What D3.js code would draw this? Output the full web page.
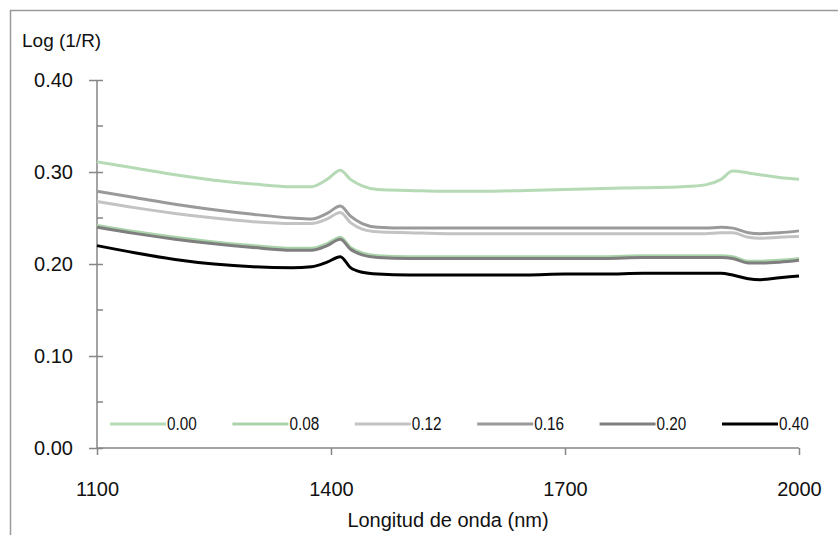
<!DOCTYPE html>
<html>
<head>
<meta charset="utf-8">
<script src="https://cdn.jsdelivr.net/npm/d3@7"></script>
<style>
  body { margin: 0; background: #fff; }
  svg { display: block; font-family: "Liberation Sans", Arial, sans-serif; }
</style>
</head>
<body>
<div id="main"></div>
<script>
var width = 838, height = 535;

// wavelengths (nm) shared by every series
var wavelengths = [1100, 1150, 1200, 1250, 1300, 1350, 1375, 1395, 1412, 1425, 1440, 1460, 1500, 1550,
  1600, 1650, 1700, 1750, 1800, 1850, 1880, 1900, 1915, 1935, 1950, 1975, 2000];

var seriesNames = ["0.00", "0.08", "0.12", "0.16", "0.20", "0.40"];
var seriesColors = ["#b5dab5", "#a9d3a9", "#c3c3c3", "#9a9a9a", "#7f7f7f", "#000000"];

var s000 = [0.311, 0.304, 0.297, 0.291, 0.287, 0.284, 0.284, 0.292, 0.302, 0.292, 0.285, 0.281, 0.280, 0.279,
  0.279, 0.280, 0.281, 0.282, 0.283, 0.284, 0.286, 0.292, 0.301, 0.299, 0.297, 0.294, 0.292];
var s008 = [0.242, 0.235, 0.229, 0.224, 0.220, 0.217, 0.217, 0.222, 0.229, 0.218, 0.212, 0.209, 0.208, 0.208,
  0.208, 0.208, 0.208, 0.208, 0.209, 0.209, 0.209, 0.209, 0.208, 0.203, 0.203, 0.204, 0.206];
var s012 = [0.268, 0.261, 0.255, 0.250, 0.246, 0.244, 0.244, 0.249, 0.256, 0.245, 0.238, 0.235, 0.234, 0.233,
  0.233, 0.233, 0.233, 0.233, 0.233, 0.233, 0.233, 0.234, 0.234, 0.229, 0.228, 0.229, 0.230];
var s016 = [0.279, 0.272, 0.265, 0.259, 0.254, 0.250, 0.249, 0.255, 0.263, 0.252, 0.244, 0.240, 0.239, 0.239,
  0.239, 0.239, 0.239, 0.239, 0.239, 0.239, 0.239, 0.240, 0.239, 0.234, 0.233, 0.234, 0.236];
var s020 = [0.240, 0.233, 0.227, 0.222, 0.218, 0.215, 0.215, 0.220, 0.227, 0.216, 0.210, 0.207, 0.206, 0.206,
  0.206, 0.206, 0.206, 0.206, 0.207, 0.207, 0.207, 0.207, 0.206, 0.201, 0.201, 0.202, 0.204];
var s040 = [0.220, 0.212, 0.205, 0.200, 0.197, 0.196, 0.197, 0.202, 0.208, 0.196, 0.191, 0.189, 0.188, 0.188,
  0.188, 0.188, 0.189, 0.189, 0.190, 0.190, 0.190, 0.190, 0.188, 0.184, 0.183, 0.185, 0.187];
var seriesValues = [s000, s008, s012, s016, s020, s040];

var xTicks = [1100, 1400, 1700, 2000];
var yTicks = [0, 0.1, 0.2, 0.3, 0.4];
var yMinorTicks = [0.05, 0.15, 0.25, 0.35];

var svg = d3.select("#main").append("svg")
  .attr("width", width).attr("height", height);

// chart border
svg.append("rect")
  .attr("x", 10.5).attr("y", 10.5).attr("width", 840).attr("height", 540)
  .attr("fill", "none").attr("stroke", "#9a9a9a").attr("stroke-width", 1.5);

var x = d3.scaleLinear().domain([1100, 2000]).range([97, 799]);
var y = d3.scaleLinear().domain([0, 0.4]).range([448, 80]);

// y axis
var yAxis = svg.append("g").attr("transform", "translate(" + x(1100) + ",0)")
  .call(d3.axisLeft(y).tickValues(yTicks).tickSize(8).tickFormat(d3.format(".2f")));
yAxis.selectAll(".tick line").attr("x2", 6).attr("x1", -8);
yAxis.selectAll("text").attr("x", -24).style("font-size", "20px").attr("fill", "#111");
yAxis.selectAll("path, line").attr("stroke", "#868686").attr("stroke-width", 1.5);
yAxis.select(".domain").attr("d", "M0," + y(0.4) + "V" + y(0));
svg.append("g").selectAll("line").data(yMinorTicks).join("line")
  .attr("x1", x(1100)).attr("x2", x(1100) + 6)
  .attr("y1", function (d) { return y(d); }).attr("y2", function (d) { return y(d); })
  .attr("stroke", "#868686").attr("stroke-width", 1.5);

// x axis
var xAxis = svg.append("g").attr("transform", "translate(0," + y(0) + ")")
  .call(d3.axisBottom(x).tickValues(xTicks).tickSize(7).tickFormat(d3.format("d")));
xAxis.selectAll("text").attr("y", 34).style("font-size", "20px").attr("fill", "#111");
xAxis.selectAll("path, line").attr("stroke", "#868686").attr("stroke-width", 1.5);
xAxis.select(".domain").attr("d", "M" + x(1100) + ",0H" + x(2000));

// titles
svg.append("text").attr("x", 22).attr("y", 47).text("Log (1/R)")
  .style("font-size", "19px").attr("fill", "#111");
svg.append("text").attr("x", 448).attr("y", 527).attr("text-anchor", "middle")
  .text("Longitud de onda (nm)").style("font-size", "20px").attr("fill", "#111");

// series lines
var line = d3.line()
  .x(function (d) { return x(d[0]); })
  .y(function (d) { return y(d[1]); })
  .curve(d3.curveMonotoneX);

var lineGroup = svg.append("g");
for (var i = 0; i < seriesNames.length; i++) {
  var pts = wavelengths.map(function (w, j) { return [w, seriesValues[i][j]]; });
  lineGroup.append("path")
    .attr("d", line(pts))
    .attr("fill", "none")
    .attr("stroke", seriesColors[i])
    .attr("stroke-width", 3)
    .attr("stroke-linejoin", "round");
}

// legend
var legendX = d3.scalePoint().domain(seriesNames).range([110, 722]);
var legend = svg.append("g").selectAll("g").data(seriesNames).join("g")
  .attr("transform", function (d) { return "translate(" + legendX(d) + ",424)"; });
legend.append("line")
  .attr("x1", 0).attr("x2", 56).attr("y1", 0).attr("y2", 0)
  .attr("stroke", function (d, i) { return seriesColors[i]; })
  .attr("stroke-width", 3);
legend.append("text")
  .attr("transform", "translate(57,6) scale(0.9,1.1)")
  .text(function (d) { return d; })
  .style("font-size", "17px").attr("fill", "#111");
</script>
</body>
</html>
